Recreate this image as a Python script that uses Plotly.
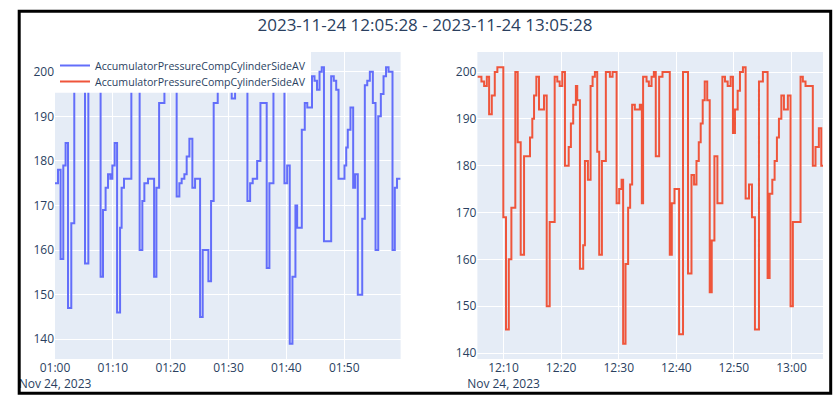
import pandas as pd
import plotly.graph_objects as go
from plotly.subplots import make_subplots

# ---- data ----
series_name = "AccumulatorPressureCompCylinderSideAV"
title_text = "2023-11-24 12:05:28 - 2023-11-24 13:05:28"

left_start = "2023-11-24 01:00:00"
left_sec = [0, 31, 58, 86, 110, 135, 169, 200, 235, 270, 311, 346, 380, 420, 450,
            473, 498, 525, 550, 574, 595, 619, 644, 675, 691, 716, 792, 830, 855,
            878, 906, 927, 965, 1028, 1052, 1080, 1135, 1165, 1200, 1230,
            1262, 1290, 1314, 1342, 1366, 1394, 1425, 1453, 1505, 1532, 1591, 1619, 1646,
            1688, 1720, 1760, 1800, 1833, 1868, 1900, 1940, 1970,
            1996, 2024, 2051, 2097, 2131, 2196, 2224, 2266, 2300, 2340,
            2380, 2408, 2435, 2463, 2494, 2512, 2560, 2591, 2617, 2666, 2692, 2718, 2744, 2767, 2790,
            2865, 2892, 2917, 2941, 3003, 3021, 3037, 3065, 3093, 3114, 3141, 3187,
            3214, 3239, 3266, 3297, 3325, 3353, 3380, 3408, 3434, 3460, 3501, 3525, 3548, 3585]
left_vals = [175, 178, 158, 179, 184, 147, 166, 197, 199, 200, 157, 196, 199, 200, 198,
             154, 169, 174, 177, 176, 179, 184, 146, 165, 174, 176, 197, 199, 200,
             160, 171, 175, 176, 154, 174, 193, 197, 199, 200, 198,
             172, 175, 176, 177, 181, 185, 174, 176, 145, 160, 153, 171, 193,
             197, 199, 200, 198, 194, 197, 199, 200, 198,
             171, 175, 176, 180, 193, 156, 175, 197, 199, 200,
             175, 179, 139, 154, 170, 165, 187, 193, 192, 199, 198, 196, 200, 201, 162,
             199, 198, 196, 176, 179, 183, 187, 192, 174, 177, 150, 167,
             197, 198, 200, 193, 160, 190, 195, 199, 201, 200, 160, 174, 176, 176]

right_start = "2023-11-24 12:05:28"
right_sec = [0, 42, 70, 98, 122, 150, 181, 208, 270, 298,
             327, 354, 395, 420, 451, 486, 548, 572, 590, 614,
             642, 694, 722, 753, 805, 832, 857, 884, 912, 951,
             974, 998, 1026, 1040, 1068, 1102, 1120, 1151, 1179, 1200,
             1224, 1248, 1269, 1297, 1338, 1380, 1408, 1450, 1477, 1502,
             1518, 1543, 1570, 1591, 1612, 1640, 1692, 1713, 1726, 1762,
             1786, 1814, 1838, 1858, 1893, 1928, 2004, 2025, 2053, 2101,
             2142, 2194, 2230, 2257, 2282, 2306, 2326, 2347, 2368, 2394,
             2420, 2441, 2469, 2500, 2552, 2579, 2607, 2638, 2662, 2683,
             2711, 2735, 2766, 2794, 2829, 2860, 2891, 2933, 2974, 3023,
             3044, 3072, 3096, 3120, 3141, 3166, 3193, 3234, 3262, 3286,
             3366, 3390, 3418, 3494, 3522, 3557, 3582, 3600]
right_vals = [199, 198, 197, 199, 191, 195, 200, 201, 169, 145,
              160, 171, 200, 185, 161, 182, 186, 190, 195, 199,
              192, 195, 150, 168, 199, 198, 197, 200, 180, 184,
              189, 193, 197, 194, 158, 163, 181, 177, 197, 199,
              200, 183, 161, 181, 200, 199, 200, 172, 175, 177,
              142, 159, 171, 176, 193, 192, 193, 172, 199, 198,
              197, 199, 200, 182, 199, 200, 161, 172, 175, 144,
              200, 157, 178, 176, 181, 185, 189, 194, 198, 194,
              153, 164, 182, 172, 199, 198, 197, 199, 187, 192,
              196, 200, 201, 173, 176, 169, 145, 198, 200, 156,
              174, 177, 181, 186, 190, 195, 192, 195, 150, 168,
              199, 198, 197, 180, 184, 188, 180, 180]

left_t = pd.to_datetime(left_start) + pd.to_timedelta(left_sec, unit="s")
right_t = pd.to_datetime(right_start) + pd.to_timedelta(right_sec, unit="s")

W, H = 833, 397
ML, MR, MT, MB = 55, 10, 52, 38
PW, PH = W - ML - MR, H - MT - MB


def px_x(px):
    return (px - ML) / PW


def px_y(py):
    return (H - MB - py) / PH


fig = make_subplots(rows=1, cols=2, horizontal_spacing=0.1)
fig.add_trace(go.Scatter(x=left_t, y=left_vals, mode="lines", line_shape="hv",
                         name=series_name, legend="legend", showlegend=True,
                         line=dict(color="#636efa", width=2)),
              row=1, col=1)
fig.add_trace(go.Scatter(x=right_t, y=right_vals, mode="lines", line_shape="hv",
                         name=series_name, legend="legend2", showlegend=True,
                         line=dict(color="#EF553B", width=2)),
              row=1, col=2)

fig.update_xaxes(dtick=600000, tick0="2023-11-24 00:00:00", automargin=False)
fig.update_yaxes(automargin=False)

legend_font = dict(size=10.6)
clear = "rgba(0,0,0,0)"
fig.update_layout(
    template="plotly",
    width=W, height=H,
    showlegend=True,
    margin=dict(l=ML, r=MR, t=MT, b=MB, autoexpand=False),
    title=dict(text=title_text, x=px_x(425), xref="paper", xanchor="center",
               y=1 - 25.5 / H, yref="container", yanchor="middle",
               font=dict(size=17)),
    legend=dict(x=0, y=px_y(51), xanchor="left", yanchor="top",
                font=legend_font, bgcolor=clear),
    legend2=dict(x=0, y=px_y(67), xanchor="left", yanchor="top",
                 font=legend_font, bgcolor=clear),
    shapes=[
        # shared white legend background
        dict(type="rect", xref="paper", yref="paper",
             x0=0, x1=px_x(311), y0=px_y(92.7), y1=1,
             line=dict(width=0), fillcolor="white", layer="above"),
        # outer frame
        dict(type="rect", xref="paper", yref="paper",
             x0=px_x(19.2), x1=px_x(830.7), y0=px_y(393.3), y1=px_y(11.3),
             line=dict(color="black", width=3), layer="above"),
    ],
)

fig.write_html(
    "out.html",
    config={"displayModeBar": False},
    post_script="document.body.style.margin='0';document.body.style.overflow='hidden';",
)
